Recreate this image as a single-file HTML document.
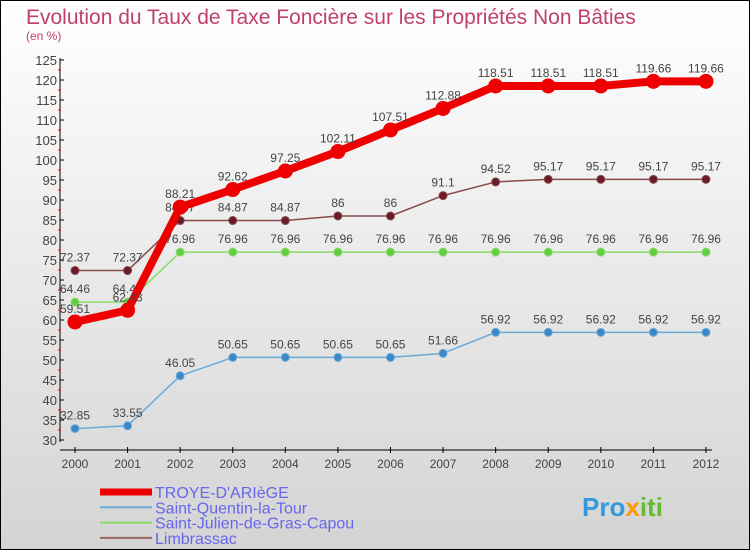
<!DOCTYPE html>
<html><head><meta charset="utf-8"><style>
body{margin:0}
#c{width:750px;height:550px;position:relative;font-family:"Liberation Sans",sans-serif}
</style></head><body>
<div id="c">
<svg id="s" width="750" height="550" xmlns="http://www.w3.org/2000/svg">
<defs><linearGradient id="bg" x1="0" y1="0" x2="0" y2="1"><stop offset="0" stop-color="#ffffff"/><stop offset="1" stop-color="#d4d4d4"/></linearGradient></defs>
<rect x="0.5" y="0.5" width="749" height="549" fill="url(#bg)" stroke="#000"/>
<text x="26" y="24" font-size="21" fill="#c0406a">Evolution du Taux de Taxe Foncière sur les Propriétés Non Bâties</text>
<text x="26" y="40" font-size="12" fill="#c0406a">(en %)</text>
<g id="axes"></g><g id="series"></g><g id="legend"></g>
<text x="582" y="516" font-size="26" font-weight="bold" fill="#3399dd">Pro<tspan fill="#ff9900">x</tspan><tspan fill="#66bb33">iti</tspan></text>
</svg></div>
<script>
const years=["2000","2001","2002","2003","2004","2005","2006","2007","2008","2009","2010","2011","2012"];
const troye=[59.51,62.43,88.21,92.62,97.25,102.11,107.51,112.88,118.51,118.51,118.51,119.66,119.66];
const stq=[32.85,33.55,46.05,50.65,50.65,50.65,50.65,51.66,56.92,56.92,56.92,56.92,56.92];
const stj=[64.46,64.46,76.96,76.96,76.96,76.96,76.96,76.96,76.96,76.96,76.96,76.96,76.96];
const limb=[72.37,72.37,84.87,84.87,84.87,86,86,91.1,94.52,95.17,95.17,95.17,95.17];
const yTicks=[30,35,40,45,50,55,60,65,70,75,80,85,90,95,100,105,110,115,120,125];
const NS="http://www.w3.org/2000/svg";
const xs=i=>75+i*52.58, ys=v=>440-(v-30)*4;
function mk(t,a,p){const e=document.createElementNS(NS,t);for(const k in a)e.setAttribute(k,a[k]);p.appendChild(e);return e;}
const ax=document.getElementById('axes');
let l=mk('line',{x1:60,y1:58,x2:60,y2:442,stroke:'#000'},ax);

l=mk('line',{x1:60,y1:450,x2:712,y2:450,stroke:'#000'},ax);

yTicks.forEach(v=>{const y=ys(v);
 mk('line',{x1:60,y1:y,x2:64,y2:y,stroke:'#000'},ax);
 if(v<125)mk('line',{x1:58,y1:y-10,x2:61,y2:y-10,stroke:'#f00'},ax);
 const t=mk('text',{x:57,y:y+5,'font-size':13,fill:'#444','text-anchor':'end'},ax);t.textContent=v;
 });
years.forEach((yr,i)=>{const x=xs(i);
 mk('line',{x1:x,y1:447,x2:x,y2:453,stroke:'#000'},ax);
 const t=mk('text',{x:x,y:468,'font-size':12,fill:'#444','text-anchor':'middle'},ax);t.textContent=yr;
 });
const sg=document.getElementById('series');
function series(d,col,dot,w,r,name){
 const g=mk('g',{},sg);
 mk('polyline',{points:d.map((v,i)=>xs(i)+','+ys(v)).join(' '),fill:'none',stroke:col,'stroke-width':w,'stroke-linejoin':'round'},g);
 d.forEach((v,i)=>{const c=mk('circle',{cx:xs(i),cy:ys(v),r:r,fill:dot,stroke:col,'stroke-width':1},g);
  
  const t=mk('text',{x:xs(i),y:ys(v)-9,'font-size':12,fill:'#444','text-anchor':'middle'},g);t.textContent=v;
  });
}
series(stq,'#6aaad8','#3a88c8',1.5,4,'saint-quentin-series');
series(stj,'#88dd66','#66cc44',1.5,4,'saint-julien-series');
series(limb,'#8a4a4a','#6a1a2a',1.5,4,'limbrassac-series');
series(troye,'#ee0000','#ee0000',8,7,'troye-series');
const lg=document.getElementById('legend');
[["TROYE-D'ARIèGE",'#ee0000',7],["Saint-Quentin-la-Tour",'#6aaad8',2],["Saint-Julien-de-Gras-Capou",'#88dd66',2],["Limbrassac",'#996666',2]].forEach((e,i)=>{
 const y=492+i*15.3;
 const g=mk('g',{},lg);
 mk('line',{x1:100,y1:y,x2:152,y2:y,stroke:e[1],'stroke-width':e[2]},g);
 const t=mk('text',{x:155,y:y+6,'font-size':16,fill:'#6666ee'},g);t.textContent=e[0];
});
</script></body></html>
